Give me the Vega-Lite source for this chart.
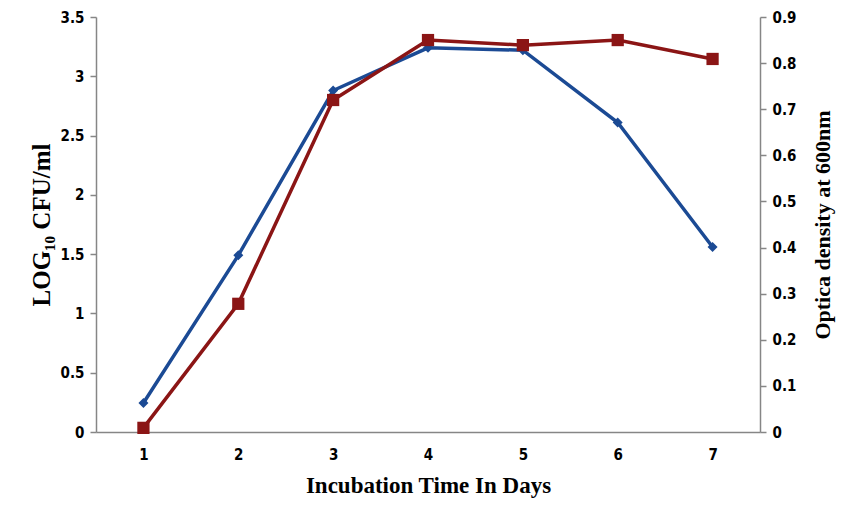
{
  "$schema": "https://vega.github.io/schema/vega-lite/v6.json",
  "width": 664,
  "height": 415,
  "autosize": "none",
  "padding": {"left": 96, "top": 17, "right": 86, "bottom": 78},
  "background": "white",
  "config": {
    "view": {"stroke": null},
    "axis": {
      "domainColor": "#868686",
      "domainWidth": 1.5,
      "tickColor": "#868686",
      "tickWidth": 1.5,
      "tickSize": 6,
      "grid": false,
      "labelFont": "DejaVu Sans Condensed",
      "labelFontWeight": "bold",
      "labelFontSize": 15,
      "labelColor": "#000000",
      "titleFont": "Liberation Serif",
      "titleFontWeight": "bold",
      "titleColor": "#000000"
    }
  },
  "data": {
    "values": [
      {"day": "1", "cfu": 0.245, "od": 0.009},
      {"day": "2", "cfu": 1.49, "od": 0.278},
      {"day": "3", "cfu": 2.88, "od": 0.72},
      {"day": "4", "cfu": 3.24, "od": 0.85},
      {"day": "5", "cfu": 3.22, "od": 0.839},
      {"day": "6", "cfu": 2.61, "od": 0.85},
      {"day": "7", "cfu": 1.56, "od": 0.809}
    ]
  },
  "encoding": {
    "x": {
      "field": "day",
      "type": "ordinal",
      "scale": {"type": "point", "padding": 0.5},
      "axis": {
        "title": "Incubation Time In Days",
        "titleFontSize": 23,
        "titlePadding": 12,
        "labelAngle": 0,
        "ticks": false,
        "labelPadding": 15
      }
    }
  },
  "layer": [
    {
      "encoding": {
        "y": {
          "field": "cfu",
          "type": "quantitative",
          "scale": {"domain": [0, 3.5]},
          "axis": {
            "title": "LOG₁₀ CFU/ml",
            "titleFontSize": 25,
            "titlePadding": 6,
            "format": "~g",
            "values": [0, 0.5, 1, 1.5, 2, 2.5, 3, 3.5],
            "labelPadding": 6
          }
        }
      },
      "layer": [
        {"mark": {"type": "line", "color": "#1b4a94", "strokeWidth": 3.5}},
        {"mark": {"type": "point", "shape": "diamond", "filled": true, "color": "#1b4a94", "opacity": 1, "size": 100}}
      ]
    },
    {
      "encoding": {
        "y": {
          "field": "od",
          "type": "quantitative",
          "scale": {"domain": [0, 0.9]},
          "axis": {
            "orient": "right",
            "title": "Optica density at 600nm",
            "titleFontSize": 22,
            "titleAngle": -90,
            "titleBaseline": "top",
            "titlePadding": 17,
            "format": "~g",
            "values": [0, 0.1, 0.2, 0.3, 0.4, 0.5, 0.6, 0.7, 0.8, 0.9],
            "labelPadding": 6
          }
        }
      },
      "layer": [
        {"mark": {"type": "line", "color": "#8b1515", "strokeWidth": 3.5}},
        {"mark": {"type": "square", "filled": true, "color": "#8b1515", "opacity": 1, "size": 150}}
      ]
    }
  ],
  "resolve": {"scale": {"y": "independent"}}
}
